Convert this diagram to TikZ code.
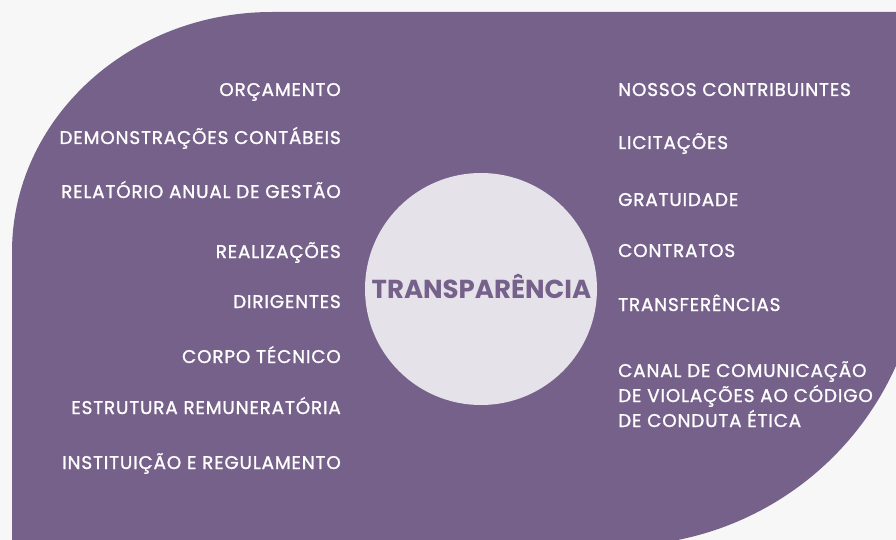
\documentclass[tikz,border=0pt]{standalone}
\usepackage{fontspec}
\setmainfont{Poppins}
\newfontfamily\itemfont{Poppins}[FakeBold=1.2, LetterSpace=4.5]
\definecolor{Plum}{HTML}{76618B}
\definecolor{PlumLight}{HTML}{E6E2EA}
\definecolor{PageGray}{HTML}{F7F7F7}
\usetikzlibrary{positioning}
\tikzset{
  item/.style={
    text=white, inner sep=0pt,
    font=\itemfont\fontsize{18.4}{25}\selectfont
  },
  itemL/.style={item, anchor=base east},
  itemR/.style={item, anchor=base west, align=left},
  hub/.style={circle, fill=PlumLight, minimum size=232pt, inner sep=0pt},
  hubtitle/.style={text=Plum, inner sep=0pt, anchor=base,
    font=\fontsize{26}{26}\selectfont\bfseries},
}

\begin{document}
\begin{tikzpicture}[x=1pt, y=-1pt]

% Page and the purple panel
\fill[PageGray] (0,0) rectangle (896,540);
\useasboundingbox (0,0) rectangle (896,540);
\fill[Plum] (12,540) -- (12,252)
  arc[start angle=180, end angle=270, x radius=260, y radius=240]
  -- (896,12) -- (896,365.8)
  arc[start angle=24.1, end angle=78.9, radius=304.3] -- cycle;

% Central circle
\node[hub] at (481,289) (hub) {};
\node[hubtitle] at (481.5,298) (title) {TRANSPARÊNCIA};

% Left column
\node[itemL] at (341,96) (orc) {ORÇAMENTO};
\node[itemL] at (341,144) (dem) {DEMONSTRAÇÕES CONTÁBEIS};
\node[itemL] at (341,198) (rel) {RELATÓRIO ANUAL DE GESTÃO};
\node[itemL] at (341,258) (rea) {REALIZAÇÕES};
\node[itemL] at (341,308) (dir) {DIRIGENTES};
\node[itemL] at (341,363) (cor) {CORPO TÉCNICO};
\node[itemL] at (341,414) (est) {ESTRUTURA REMUNERATÓRIA};
\node[itemL] at (341,469) (ins) {INSTITUIÇÃO E REGULAMENTO};

% Right column (multi-line node sits on its last baseline)
\node[itemR] at (618,96) (nos) {NOSSOS CONTRIBUINTES};
\node[itemR] at (618,149) (lic) {LICITAÇÕES};
\node[itemR] at (618,206) (gra) {GRATUIDADE};
\node[itemR] at (618,257) (con) {CONTRATOS};
\node[itemR] at (618,311) (tra) {TRANSFERÊNCIAS};
\node[itemR] at (618,427) (can) {CANAL DE COMUNICAÇÃO\\
  DE VIOLAÇÕES AO CÓDIGO\\
  DE CONDUTA ÉTICA};

\end{tikzpicture}
\end{document}
